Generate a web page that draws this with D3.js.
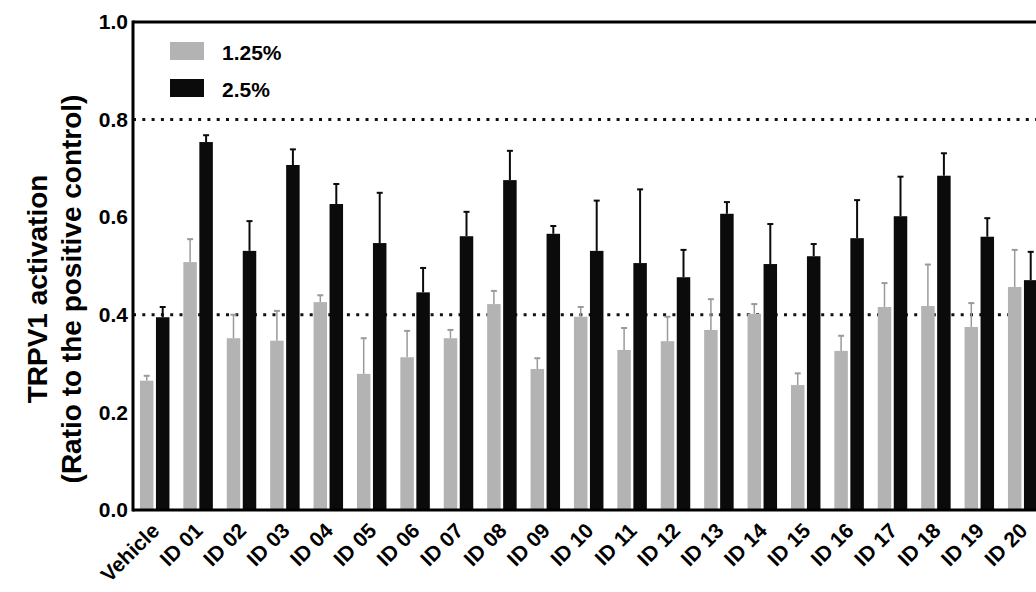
<!DOCTYPE html>
<html>
<head>
<meta charset="utf-8">
<script src="https://cdn.jsdelivr.net/npm/d3@7/dist/d3.min.js"></script>
<style>
  html, body { margin: 0; padding: 0; background: #fff; }
  svg { display: block; font-family: "Liberation Sans", Arial, sans-serif; font-weight: bold; }
</style>
</head>
<body>
<svg id="chart" width="1036" height="592"></svg>
<script>
// Samples on the x axis
const categories = ["Vehicle", "ID 01", "ID 02", "ID 03", "ID 04", "ID 05", "ID 06", "ID 07",
  "ID 08", "ID 09", "ID 10", "ID 11", "ID 12", "ID 13", "ID 14", "ID 15", "ID 16", "ID 17",
  "ID 18", "ID 19", "ID 20"];

// Series names (concentrations)
const seriesNames = ["1.25%", "2.5%"];

// Mean TRPV1 activation, 1.25 %
const low = [0.265, 0.508, 0.352, 0.347, 0.426, 0.279, 0.313, 0.352, 0.422, 0.289, 0.396,
  0.328, 0.346, 0.369, 0.402, 0.256, 0.326, 0.416, 0.418, 0.375, 0.457];
// Upper error (mean + SD), 1.25 %
const lowErr = [0.275, 0.555, 0.400, 0.408, 0.440, 0.352, 0.367, 0.369, 0.449, 0.311, 0.416,
  0.373, 0.396, 0.432, 0.422, 0.280, 0.357, 0.465, 0.503, 0.424, 0.533];

// Mean TRPV1 activation, 2.5 %
const high = [0.395, 0.754, 0.531, 0.707, 0.627, 0.547, 0.446, 0.561, 0.676, 0.566, 0.531,
  0.506, 0.477, 0.607, 0.504, 0.520, 0.557, 0.602, 0.685, 0.560, 0.471];
// Upper error (mean + SD), 2.5 %
const highErr = [0.416, 0.768, 0.592, 0.739, 0.668, 0.650, 0.496, 0.611, 0.736, 0.582, 0.634,
  0.657, 0.533, 0.631, 0.586, 0.545, 0.635, 0.683, 0.731, 0.598, 0.529];

// Y tick values and reference thresholds
const yTicks = [0.0, 0.2, 0.4, 0.6, 0.8, 1.0];
const thresholds = [0.4, 0.8];

const colors = ["#b3b3b3", "#0b0b0b"];
const errColors = ["#9a9a9a", "#0b0b0b"];

const svg = d3.select("#chart");
const plotLeft = 133, plotTop = 22, plotBottom = 510;
const step = 43.4;
const plotRight = plotLeft + step * categories.length;
const fontFam = "Liberation Sans, Arial, sans-serif";

const x = d3.scaleBand().domain(categories).range([plotLeft, plotRight]).paddingInner(0).paddingOuter(0);
const y = d3.scaleLinear().domain([0, 1]).range([plotBottom, plotTop]);
const barW = 13.5;
const offsets = [-8, 8];

// Dotted threshold lines, drawn beneath the bars
svg.append("g").selectAll("line").data(thresholds).join("line")
  .attr("x1", plotLeft).attr("x2", 1036)
  .attr("y1", d => y(d)).attr("y2", d => y(d))
  .attr("stroke", "#111").attr("stroke-width", 3)
  .attr("stroke-dasharray", "3,6.3");

const series = [
  { name: seriesNames[0], vals: low, err: lowErr },
  { name: seriesNames[1], vals: high, err: highErr }
];

series.forEach((s, si) => {
  const g = svg.append("g");
  const cx = i => x(categories[i]) + x.bandwidth() / 2 + offsets[si];
  // error bars (upper only)
  g.selectAll("line.err").data(s.vals).join("line").attr("class", "err")
    .attr("x1", (d, i) => cx(i)).attr("x2", (d, i) => cx(i))
    .attr("y1", d => y(d)).attr("y2", (d, i) => y(s.err[i]))
    .attr("stroke", errColors[si]).attr("stroke-width", si ? 2 : 1.5);
  g.selectAll("line.cap").data(s.vals).join("line").attr("class", "cap")
    .attr("x1", (d, i) => cx(i) - 3).attr("x2", (d, i) => cx(i) + 3)
    .attr("y1", (d, i) => y(s.err[i])).attr("y2", (d, i) => y(s.err[i]))
    .attr("stroke", errColors[si]).attr("stroke-width", 2);
  // bars
  g.selectAll("rect").data(s.vals).join("rect")
    .attr("x", (d, i) => cx(i) - barW / 2)
    .attr("width", barW)
    .attr("y", d => y(d))
    .attr("height", d => y(0) - y(d))
    .attr("fill", colors[si]);
});

// Frame: left axis, top rule and baseline
svg.append("line").attr("x1", plotLeft).attr("x2", plotLeft).attr("y1", plotTop - 1.5).attr("y2", plotBottom + 1.5)
  .attr("stroke", "#000").attr("stroke-width", 3);
svg.append("line").attr("x1", plotLeft).attr("x2", 1036).attr("y1", plotTop).attr("y2", plotTop)
  .attr("stroke", "#000").attr("stroke-width", 3);
svg.append("line").attr("x1", plotLeft).attr("x2", 1036).attr("y1", plotBottom).attr("y2", plotBottom)
  .attr("stroke", "#000").attr("stroke-width", 3);

// Y axis labels
const yAxis = d3.axisLeft(y).tickValues(yTicks).tickFormat(d3.format(".1f")).tickSize(0).tickPadding(5);
const ya = svg.append("g").attr("transform", `translate(${plotLeft},0)`).call(yAxis);
ya.select(".domain").remove();
ya.attr("font-size", 21).attr("font-family", fontFam);
ya.selectAll("text").attr("font-weight", "bold").attr("fill", "#000");

// X axis labels, rotated
const xAxis = d3.axisBottom(x).tickSize(0).tickPadding(0);
const xa = svg.append("g").attr("transform", `translate(0,${plotBottom})`).call(xAxis);
xa.select(".domain").remove();
xa.attr("font-size", 21).attr("font-family", fontFam);
xa.selectAll("text")
  .attr("font-weight", "bold").attr("fill", "#000")
  .attr("text-anchor", "end").attr("dy", 0)
  .attr("transform", "translate(6,22) rotate(-45)");

// Y axis title
const title = svg.append("text")
  .attr("transform", "translate(0,289) rotate(-90)")
  .attr("text-anchor", "middle").attr("font-size", 28).attr("fill", "#000");
title.append("tspan").attr("x", 0).attr("y", 47).text("TRPV1 activation");
title.append("tspan").attr("x", 0).attr("y", 81).text("(Ratio to the positive control)");

// Legend
const legend = svg.append("g").attr("transform", "translate(170,42)");
seriesNames.forEach((n, i) => {
  legend.append("rect").attr("x", 0).attr("y", i * 37).attr("width", 34).attr("height", 18)
    .attr("fill", colors[i]);
  legend.append("text").attr("x", 52).attr("y", i * 37 + 18).attr("font-size", 21)
    .attr("fill", "#000").text(n);
});
</script>
</body>
</html>
